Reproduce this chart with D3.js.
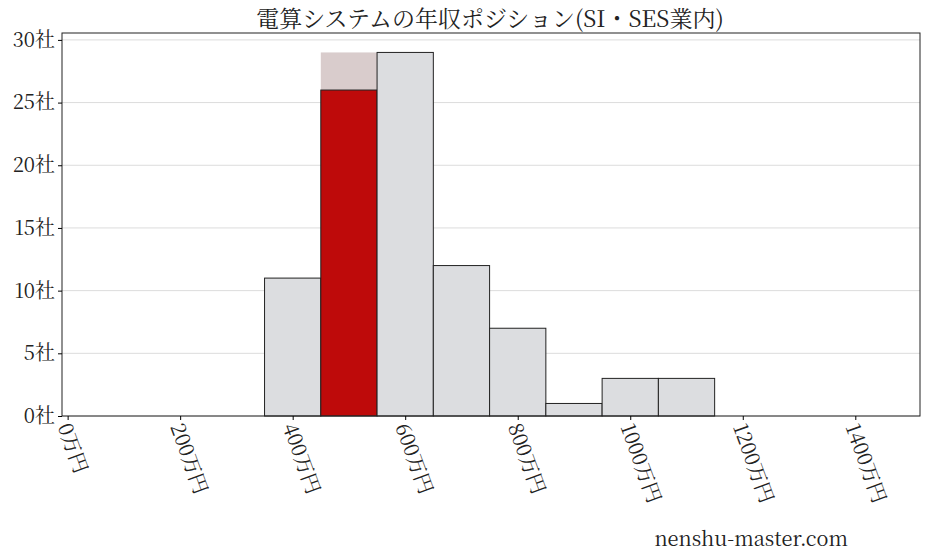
<!DOCTYPE html><html><head><meta charset="utf-8"><script src="https://cdn.jsdelivr.net/npm/d3@7"></script>
<style>body{margin:0;background:#fff}text{font-family:"Noto Serif CJK JP","Noto Sans CJK JP",serif}</style></head><body>
<svg id="c" width="928" height="557"></svg>
<script>
const binStarts=[350,450,550,650,750,850,950,1050];
const counts=[11,26,29,12,7,1,3,3];
const highlightIndex=1;
const highlightGhost=29;
const xTicks=[0,200,400,600,800,1000,1200,1400];
const yTicks=[0,5,10,15,20,25,30];
const svg=d3.select("#c");
const L=62,R=920,T=33,B=416;
const x=d3.scaleLinear().domain([-10,1515]).range([L,R]);
const y=d3.scaleLinear().domain([0,30.55]).range([B,T]);
svg.append("g").selectAll("line").data(yTicks).join("line").attr("x1",L).attr("x2",R).attr("y1",d=>y(d)).attr("y2",d=>y(d)).attr("stroke","#dcdcdc");
svg.append("rect").attr("x",x(450)).attr("width",x(550)-x(450)).attr("y",y(highlightGhost)).attr("height",y(0)-y(highlightGhost)).attr("fill","#d9cccc");
svg.append("g").selectAll("rect").data(binStarts).join("rect")
 .attr("x",d=>x(d)).attr("width",d=>x(d+100)-x(d)).attr("y",(d,i)=>y(counts[i])).attr("height",(d,i)=>y(0)-y(counts[i]))
 .attr("fill",(d,i)=>i===highlightIndex?"#be0a0a":"#dcdde0").attr("stroke","#222").attr("stroke-width",1);
svg.append("rect").attr("x",L).attr("y",T).attr("width",R-L).attr("height",B-T).attr("fill","none").attr("stroke","#222");
const ya=svg.append("g").attr("transform",`translate(${L},0)`).call(d3.axisLeft(y).tickValues(yTicks).tickSize(4).tickFormat(d=>d+"社"));
ya.select(".domain").remove();
ya.selectAll("text").attr("font-size",20).attr("fill","#222").attr("font-family",'"Noto Serif CJK JP","Noto Sans CJK JP",serif');
const xa=svg.append("g").attr("transform",`translate(0,${B})`).call(d3.axisBottom(x).tickValues(xTicks).tickSize(4).tickFormat(d=>d+"万円"));
xa.select(".domain").remove();
xa.selectAll("text").attr("font-size",20).attr("fill","#222").attr("text-anchor","start").attr("dy",0)
 .attr("transform","translate(-4,8) rotate(70)").attr("font-family",'"Noto Serif CJK JP","Noto Sans CJK JP",serif');
svg.append("text").attr("x",490).attr("y",27).attr("text-anchor","middle").attr("font-size",23).attr("fill","#222").text("電算システムの年収ポジション(SI・SES業内)");
svg.append("text").attr("x",848).attr("y",546).attr("text-anchor","end").attr("font-size",20).attr("fill","#222").text("nenshu-master.com");
</script></body></html>
